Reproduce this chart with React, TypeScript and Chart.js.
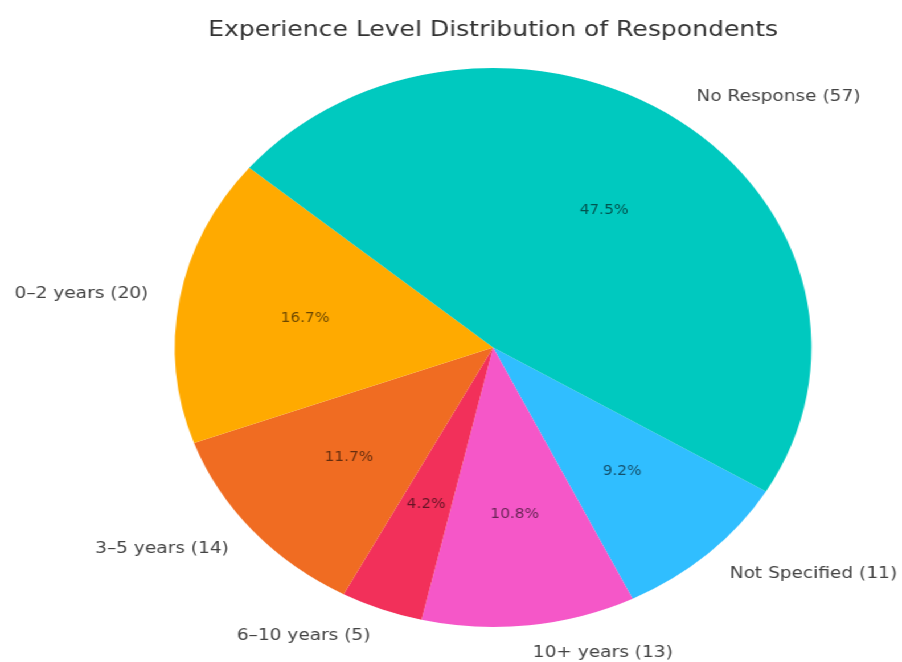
import React, { useEffect, useRef } from "react";
import { Chart, registerables } from "chart.js";

Chart.register(...registerables);

const categories = ["Not Specified", "10+ years", "6–10 years", "3–5 years", "0–2 years", "No Response"];
const counts = [11, 13, 5, 14, 20, 57];
const colors = ["#30BEFF", "#F557C8", "#F2305A", "#F06C22", "#FFAA00", "#00C9BF"];
const titleText = "Experience Level Distribution of Respondents";

const INNER_W = 792;
const INNER_H = 662;
const SCALE_X = 902 / INNER_W;

const labelPlugin = {
  id: "mplLabels",
  afterDatasetsDraw(chart: any) {
    const ctx = chart.ctx;
    const meta = chart.getDatasetMeta(0);
    const total = counts.reduce((a, b) => a + b, 0);
    ctx.save();
    meta.data.forEach((arc: any, i: number) => {
      const p = arc.getProps(["x", "y", "startAngle", "endAngle", "outerRadius"], true);
      const a = (p.startAngle + p.endAngle) / 2;
      const c = Math.cos(a);
      const s = Math.sin(a);
      // outside label
      ctx.font = "16.3px 'DejaVu Sans'";
      ctx.fillStyle = "#444444";
      ctx.textBaseline = "middle";
      ctx.textAlign = c >= 0 ? "left" : "right";
      ctx.fillText(`${categories[i]} (${counts[i]})`, p.x + p.outerRadius * 1.1 * c, p.y + p.outerRadius * 1.1 * s);
      // percent label
      ctx.font = "13.5px 'DejaVu Sans'";
      ctx.fillStyle = "rgba(0,0,0,0.58)";
      ctx.textAlign = "center";
      ctx.fillText(((counts[i] / total) * 100).toFixed(1) + "%", p.x + p.outerRadius * 0.6 * c, p.y + p.outerRadius * 0.6 * s);
    });
    ctx.restore();
  },
};

export default function App() {
  const ref = useRef<HTMLCanvasElement>(null);
  useEffect(() => {
    if (!ref.current) return;
    const chart = new Chart(ref.current, {
      type: "pie",
      data: {
        labels: categories,
        datasets: [
          {
            data: counts,
            backgroundColor: colors,
            borderWidth: 0,
          },
        ],
      },
      options: {
        responsive: false,
        animation: false,
        rotation: 121,
        devicePixelRatio: 1,
        layout: { padding: { left: 153, right: 79, top: 0, bottom: 35 } },
        plugins: {
          legend: { display: false },
          tooltip: { enabled: false },
          title: {
            display: true,
            text: titleText,
            color: "#333333",
            font: { family: "'DejaVu Sans'", size: 22, weight: "normal" },
            padding: { top: 16.8, bottom: 24.8 },
          },
        },
      },
      plugins: [labelPlugin],
    });
    return () => chart.destroy();
  }, []);
  return (
    <div
      style={{
        position: "absolute",
        left: 0,
        top: 0,
        width: INNER_W,
        height: INNER_H,
        transform: `scaleX(${SCALE_X})`,
        transformOrigin: "0 0",
        background: "#ffffff",
      }}
    >
      <canvas ref={ref} width={INNER_W} height={INNER_H} />
    </div>
  );
}
